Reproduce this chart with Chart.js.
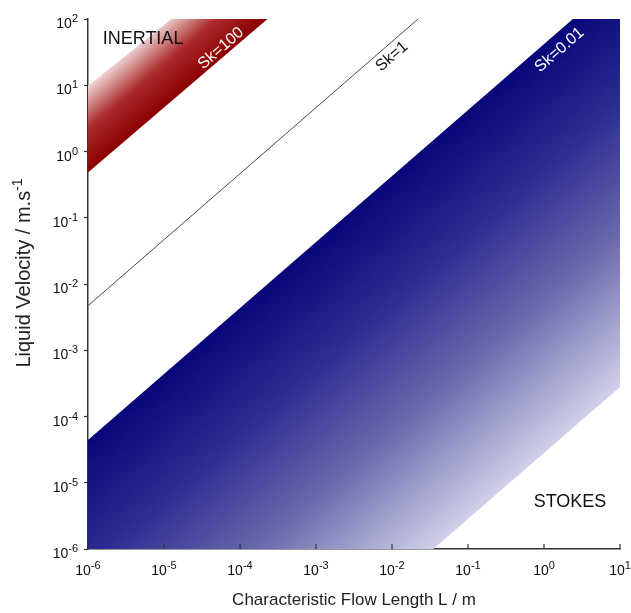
<!DOCTYPE html>
<html>
<head>
<meta charset="utf-8">
<script src="https://cdn.jsdelivr.net/npm/chart.js@4/dist/chart.umd.min.js"></script>
<style>
  html, body { margin: 0; padding: 0; background: #fff; }
  #wrap { position: relative; width: 631px; height: 613px; }
</style>
</head>
<body>
<div id="wrap"><canvas id="regime"></canvas></div>
<script>
// axis decades
const lengthTicks = [1e-6, 1e-5, 1e-4, 1e-3, 1e-2, 1e-1, 1e0, 1e1];
const velocityTicks = [1e-6, 1e-5, 1e-4, 1e-3, 1e-2, 1e-1, 1e0, 1e1, 1e2];

// Sk = 1 line
const sk1Length = [1e-6, 2.2e-2];
const sk1Velocity = [4.7e-3, 100];

// inertial band (Sk=100 lower edge, fade edge above)
const inertialLength = [1e-6, 2.3e-4, 1.26e-5, 1e-6];
const inertialVelocity = [0.48, 100, 100, 9.8];

// stokes band (Sk=0.01 upper edge, fade edge below)
const stokesLength = [1e-6, 1e-6, 2.4, 10, 10, 0.035];
const stokesVelocity = [1e-6, 4.4e-5, 100, 100, 2.8e-4, 1e-6];

const FONT = "'Liberation Sans', Arial, Helvetica, sans-serif";

function toPoints(xs, ys) {
    return xs.map((x, i) => ({ x: x, y: ys[i] }));
}

// gradient running across a band, perpendicular to its diagonal edges
function bandGradient(chart, xs, ys, iA, iB, iFar, stops) {
    const { ctx, scales, chartArea } = chart;
    if (!chartArea) return stops[0][1];
    const ax = scales.x.getPixelForValue(xs[iA]), ay = scales.y.getPixelForValue(ys[iA]);
    const bx = scales.x.getPixelForValue(xs[iB]), by = scales.y.getPixelForValue(ys[iB]);
    const fx = scales.x.getPixelForValue(xs[iFar]), fy = scales.y.getPixelForValue(ys[iFar]);
    const len = Math.hypot(bx - ax, by - ay);
    let nx = -(by - ay) / len, ny = (bx - ax) / len;
    const dist = (fx - ax) * nx + (fy - ay) * ny;
    const g = ctx.createLinearGradient(ax, ay, ax + nx * dist, ay + ny * dist);
    stops.forEach(s => g.addColorStop(s[0], s[1]));
    return g;
}

// "10" with a raised exponent; align: 'center' or 'right'
function drawPow(ctx, base, exp, x, baseline, align, size, supSize) {
    ctx.font = size + 'px ' + FONT;
    const wb = ctx.measureText(base).width;
    ctx.font = supSize + 'px ' + FONT;
    const ws = ctx.measureText(exp).width;
    const total = wb + ws;
    const left = align === 'right' ? x - total : x - total / 2;
    ctx.textAlign = 'left';
    ctx.textBaseline = 'alphabetic';
    ctx.font = size + 'px ' + FONT;
    ctx.fillText(base, left, baseline);
    ctx.font = supSize + 'px ' + FONT;
    ctx.fillText(exp, left + wb, baseline - size * 0.42);
}

const notesPlugin = {
    id: 'notes',
    afterDraw(chart) {
        const { ctx, scales, chartArea } = chart;
        const xs = scales.x, ys = scales.y;
        const px = v => xs.getPixelForValue(v);
        const py = v => ys.getPixelForValue(v);
        // slope of an Sk line on screen
        const ang = Math.atan2(py(10) - py(1), px(10) - px(1));

        ctx.save();
        // inward ticks on the length axis
        ctx.strokeStyle = '#333';
        ctx.lineWidth = 1.2;
        lengthTicks.forEach(v => {
            const x = px(v);
            ctx.beginPath();
            ctx.moveTo(x, chartArea.bottom);
            ctx.lineTo(x, chartArea.bottom - 5);
            ctx.stroke();
        });

        // decade labels
        ctx.fillStyle = '#0d0d0d';
        lengthTicks.forEach(v => {
            drawPow(ctx, '10', String(Math.round(Math.log10(v))), px(v), chartArea.bottom + 26, 'center', 14, 11);
        });
        velocityTicks.forEach(v => {
            drawPow(ctx, '10', String(Math.round(Math.log10(v))), 78, py(v) + 9, 'right', 14, 11);
        });

        // velocity axis title with superscript
        ctx.save();
        ctx.translate(30, 273);
        ctx.rotate(-Math.PI / 2);
        ctx.fillStyle = '#222';
        ctx.font = '20px ' + FONT;
        const main = 'Liquid Velocity / m.s';
        const wm = ctx.measureText(main).width;
        ctx.font = '14px ' + FONT;
        const wsup = ctx.measureText('-1').width;
        const start = -(wm + wsup) / 2;
        ctx.textAlign = 'left';
        ctx.textBaseline = 'alphabetic';
        ctx.font = '20px ' + FONT;
        ctx.fillText(main, start, 0);
        ctx.font = '14px ' + FONT;
        ctx.fillText('-1', start + wm, -8);
        ctx.restore();

        ctx.textAlign = 'center';
        ctx.textBaseline = 'middle';
        ctx.fillStyle = '#111';
        ctx.font = '18px ' + FONT;
        ctx.fillText('INERTIAL', px(5.3e-6), py(50));
        ctx.fillText('STOKES', px(2.2), py(5.1e-6));

        const rotated = (text, x, y, color) => {
            ctx.save();
            ctx.translate(x, y);
            ctx.rotate(ang);
            ctx.fillStyle = color;
            ctx.font = '16px ' + FONT;
            ctx.fillText(text, 0, 0);
            ctx.restore();
        };
        rotated('Sk=100', px(5.6e-5), py(36), '#fff');
        rotated('Sk=1', px(1.0e-2), py(27), '#111');
        rotated('Sk=0.01', px(1.6), py(34), '#fff');
        ctx.restore();
    }
};

const chart = new Chart(document.getElementById('regime').getContext('2d'), {
    type: 'line',
    data: {
        datasets: [
            {
                label: 'Stokes',
                data: toPoints(stokesLength, stokesVelocity),
                borderWidth: 0,
                pointRadius: 0,
                fill: 'shape',
                backgroundColor: c => bandGradient(c.chart, stokesLength, stokesVelocity, 1, 2, 5, [
                    [0, '#07077a'], [0.3, '#2c2c92'], [0.62, '#6868ac'], [1, '#d0d0e9']
                ]),
            },
            {
                label: 'Inertial',
                data: toPoints(inertialLength, inertialVelocity),
                borderWidth: 0,
                pointRadius: 0,
                fill: 'shape',
                backgroundColor: c => bandGradient(c.chart, inertialLength, inertialVelocity, 0, 1, 3, [
                    [0, '#8b0000'], [0.5, '#ab2a2a'], [1, '#f0d6d6']
                ]),
            },
            {
                label: 'Sk=1',
                data: toPoints(sk1Length, sk1Velocity),
                borderColor: '#4a4a4a',
                borderWidth: 1,
                pointRadius: 0,
                fill: false,
            },
        ],
    },
    options: {
        responsive: true,
        maintainAspectRatio: false,
        animation: false,
        events: [],
        layout: { padding: { top: 19, right: 11, left: 0, bottom: 0 } },
        plugins: {
            legend: { display: false },
            tooltip: { enabled: false },
        },
        scales: {
            x: {
                type: 'logarithmic',
                min: 1e-6,
                max: 1e1,
                afterBuildTicks: s => { s.ticks = lengthTicks.map(v => ({ value: v })); },
                afterFit: s => { s.height = 64; s.paddingLeft = 0; s.paddingRight = 0; },
                grid: { drawOnChartArea: false, drawTicks: false },
                border: { color: '#333', width: 1.5 },
                ticks: { display: false },
                title: {
                    display: true,
                    text: 'Characteristic Flow Length L / m',
                    color: '#222',
                    font: { family: FONT, size: 17 },
                    padding: { top: 0, bottom: 2 },
                },
            },
            y: {
                type: 'logarithmic',
                min: 1e-6,
                max: 1e2,
                afterBuildTicks: s => { s.ticks = velocityTicks.map(v => ({ value: v })); },
                afterFit: s => { s.width = 88; s.paddingTop = 0; s.paddingBottom = 0; },
                grid: { drawOnChartArea: false, tickLength: 4, tickColor: '#333', tickWidth: 1.2 },
                border: { color: '#333', width: 1.5 },
                ticks: { display: false },
                title: { display: false },
            },
        },
    },
    plugins: [notesPlugin],
});
</script>
</body>
</html>
